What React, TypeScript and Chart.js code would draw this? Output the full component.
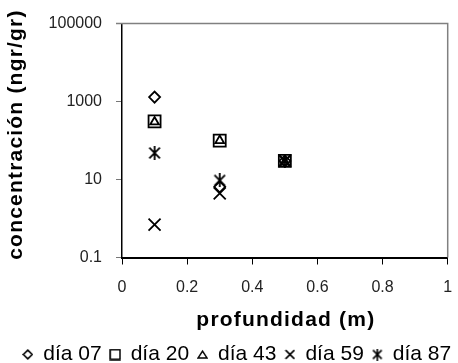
import React, { useEffect, useRef } from "react";
import { Chart, registerables } from "chart.js";

Chart.register(...registerables);

const depthDay07 = [0.1, 0.3, 0.5];
const valuesDay07 = [1300, 6.5, 30];
const depthDay20 = [0.1, 0.3, 0.5];
const valuesDay20 = [310, 100, 30];
const depthDay43 = [0.1, 0.3, 0.5];
const valuesDay43 = [300, 100, 28];
const depthDay59 = [0.1, 0.3, 0.5];
const valuesDay59 = [0.7, 4.4, 30];
const depthDay87 = [0.1, 0.3, 0.5];
const valuesDay87 = [48, 9.5, 30];

const seriesLabels = ["día 07", "día 20", "día 43", "día 59", "día 87"];
const yTickValues = [0.1, 10, 1000, 100000];
const xTickValues = [0, 0.2, 0.4, 0.6, 0.8, 1];
const xTitle = "profundidad (m)";
const yTitle = "concentración (ngr/gr)";

const FONT = "'Liberation Sans', Arial, sans-serif";

function symbolCanvas(kind: string, size: number, lw: number): HTMLCanvasElement {
  const c = document.createElement("canvas");
  c.width = size;
  c.height = size;
  const ctx = c.getContext("2d")!;
  ctx.strokeStyle = "#000";
  ctx.lineWidth = lw;
  const h = size / 2;
  const m = lw / 2 + 0.3;
  ctx.beginPath();
  if (kind === "diamond") {
    ctx.moveTo(h, m);
    ctx.lineTo(size - m, h);
    ctx.lineTo(h, size - m);
    ctx.lineTo(m, h);
    ctx.closePath();
  } else if (kind === "square") {
    ctx.rect(m, m, size - 2 * m, size - 2 * m);
  } else if (kind === "triangle") {
    ctx.moveTo(h, m + 1);
    ctx.lineTo(size - m, size - m - 1);
    ctx.lineTo(m, size - m - 1);
    ctx.closePath();
  } else if (kind === "x") {
    ctx.moveTo(m, m);
    ctx.lineTo(size - m, size - m);
    ctx.moveTo(size - m, m);
    ctx.lineTo(m, size - m);
  } else {
    ctx.moveTo(m + 0.5, m + 0.5);
    ctx.lineTo(size - m - 0.5, size - m - 0.5);
    ctx.moveTo(size - m - 0.5, m + 0.5);
    ctx.lineTo(m + 0.5, size - m - 0.5);
    ctx.moveTo(h, 0);
    ctx.lineTo(h, size);
  }
  ctx.stroke();
  return c;
}

export default function App() {
  const ref = useRef<HTMLCanvasElement | null>(null);

  useEffect(() => {
    if (!ref.current) return;
    const asterisk = symbolCanvas("asterisk", 14, 1.8);
    const legendSymbols = [
      symbolCanvas("diamond", 11, 1.6),
      symbolCanvas("square", 12, 1.6),
      symbolCanvas("triangle", 11, 1.5),
      symbolCanvas("x", 11, 1.6),
      symbolCanvas("asterisk", 12, 1.6),
    ];
    const toPts = (xs: number[], ys: number[]) => xs.map((x, i) => ({ x, y: ys[i] }));
    const base = {
      showLine: false,
      borderColor: "#000",
      backgroundColor: "rgba(0,0,0,0)",
      borderWidth: 1.8,
    };
    const frame = {
      id: "frame",
      afterLayout(chart: any) {
        if (chart.legend) {
          chart.legend.left += 8;
          chart.legend.right += 8;
        }
      },
      afterDraw(chart: any) {
        const { ctx, chartArea } = chart;
        ctx.save();
        ctx.strokeStyle = "#808080";
        ctx.lineWidth = 1.5;
        ctx.beginPath();
        ctx.moveTo(chartArea.left - 6, chartArea.top);
        ctx.lineTo(chartArea.right, chartArea.top);
        ctx.lineTo(chartArea.right, chartArea.bottom);
        ctx.stroke();

        ctx.fillStyle = "#000";
        ctx.font = `bold 21px ${FONT}`;
        (ctx as any).letterSpacing = "1.2px";
        ctx.textAlign = "center";
        ctx.textBaseline = "middle";
        ctx.fillText(xTitle, (chartArea.left + chartArea.right) / 2 + 1, 320);
        ctx.translate(16, (chartArea.top + chartArea.bottom) / 2 - 6);
        ctx.rotate(-Math.PI / 2);
        ctx.fillText(yTitle, 0, 0);
        ctx.restore();
      },
    };
    const chart = new Chart(ref.current, {
      type: "scatter",
      data: {
        datasets: [
          { ...base, label: seriesLabels[0], data: toPts(depthDay07, valuesDay07), pointStyle: "rectRot", pointRadius: 5.5 },
          { ...base, label: seriesLabels[1], data: toPts(depthDay20, valuesDay20), pointStyle: "rect", pointRadius: 8.5 },
          { ...base, label: seriesLabels[2], data: toPts(depthDay43, valuesDay43), pointStyle: "triangle", pointRadius: 5 },
          { ...base, label: seriesLabels[3], data: toPts(depthDay59, valuesDay59), pointStyle: "crossRot", pointRadius: 8.5 },
          { ...base, label: seriesLabels[4], data: toPts(depthDay87, valuesDay87), pointStyle: asterisk as any, pointRadius: 7 },
        ],
      },
      options: {
        animation: false,
        responsive: false,
        maintainAspectRatio: false,
        layout: { padding: { top: 23, right: 0, left: 0, bottom: -12 } },
        plugins: {
          tooltip: { enabled: false },
          legend: {
            position: "bottom",
            labels: {
              usePointStyle: true,
              color: "#000",
              font: { family: FONT, size: 21 },
              boxWidth: 10,
              boxHeight: 10,
              padding: 8.5,
              generateLabels: (ch: any) => {
                const items = Chart.defaults.plugins.legend.labels.generateLabels(ch);
                return items.map((it: any, i: number) => ({ ...it, pointStyle: legendSymbols[i] }));
              },
            },
          },
        },
        scales: {
          x: {
            type: "linear",
            min: 0,
            max: 1,
            afterBuildTicks: (s: any) => {
              s.ticks = xTickValues.map((v) => ({ value: v }));
            },
            afterFit: (s: any) => {
              s.height = 78;
              s.paddingLeft = 0;
              s.paddingRight = 5;
            },
            ticks: {
              color: "#222",
              font: { family: FONT, size: 16 },
              padding: 13,
              callback: (v: any) => String(v),
            },
            grid: { drawOnChartArea: false, color: "#000", tickLength: 7 },
            border: { color: "#000", width: 2 },
          },
          y: {
            type: "logarithmic",
            min: 0.1,
            max: 100000,
            afterBuildTicks: (s: any) => {
              s.ticks = yTickValues.map((v) => ({ value: v }));
            },
            afterFit: (s: any) => {
              s.width = 122;
            },
            ticks: {
              color: "#222",
              font: { family: FONT, size: 16 },
              padding: 14,
              callback: (v: any) => String(v),
            },
            grid: { drawOnChartArea: false, color: "#777", tickLength: 6 },
            border: { color: "#000", width: 1.5 },
          },
        },
      },
      plugins: [frame],
    });
    return () => chart.destroy();
  }, []);

  return (
    <div style={{ position: "fixed", left: 0, top: 0, width: 458, height: 363, background: "#fff" }}>
      <canvas ref={ref} width={458} height={363} style={{ width: 458, height: 363, display: "block" }} />
    </div>
  );
}
